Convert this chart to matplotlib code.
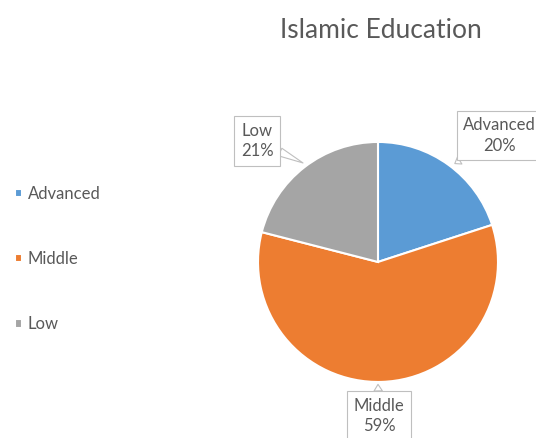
import matplotlib
matplotlib.use("Agg")
import matplotlib.pyplot as plt

plt.rcParams['font.family'] = ['Lato', 'DejaVu Sans']

# share of students per level
levels = ["Advanced", "Middle", "Low"]
shares = [20, 59, 21]
colors = ["#5B9BD5", "#ED7D31", "#A5A5A5"]
text_gray = "#595959"

fig = plt.figure(figsize=(5.36, 4.38), dpi=100)

# pie axes: 1 data unit = 120 px, pie centred at (378, 262) px
ax = fig.add_axes([198 / 536, 0, 338 / 536, 378 / 438])
wedges, _ = ax.pie(shares, colors=colors, startangle=90, counterclock=False,
                   radius=1.0, wedgeprops=dict(edgecolor="white", linewidth=1.5))
ax.set_xlim(-1.5, 1.3167)
ax.set_ylim(-1.467, 1.683)
ax.set_aspect("equal")
ax.axis("off")

# callout labels: box position and the point on the rim they refer to
label_pos = [(1.0125, 1.054), (0.008, -1.283), (-1.008, 1.008)]
rim_pos = [(0.64, 0.82), (0.0, -1.02), (-0.625, 0.825)]
for name, val, xy, xytext in zip(levels, shares, rim_pos, label_pos):
    ax.annotate(f"{name}\n{val}%", xy=xy, xytext=xytext,
                ha="center", va="center", fontsize=12, color=text_gray,
                linespacing=1.35, annotation_clip=False,
                bbox=dict(boxstyle="square,pad=0.38", fc="white", ec="#BFBFBF", lw=0.8),
                arrowprops=dict(arrowstyle="wedge,tail_width=0.5", fc="white",
                                ec="#BFBFBF", lw=0.8, shrinkA=0, shrinkB=0))

fig.text(381 / 536, 1 - 30 / 438, "Islamic Education", ha="center", va="center",
         fontsize=19, color=text_gray)

fig.legend(wedges, levels, loc="center left", bbox_to_anchor=(0, 1 - 259 / 438),
           frameon=False, fontsize=12, labelcolor=text_gray, labelspacing=2.95,
           handlelength=0.42, handleheight=0.42, handletextpad=0.35)

fig.savefig("out.png", dpi=100)
